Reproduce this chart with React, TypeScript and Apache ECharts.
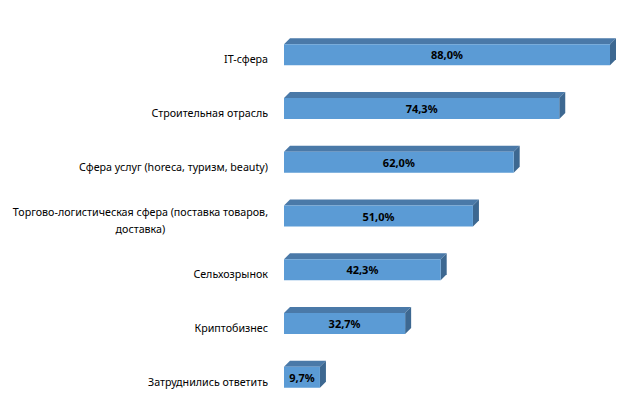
import React, { useEffect, useRef } from "react";
import * as echarts from "echarts";

const categories = [
  "IT-сфера",
  "Строительная отрасль",
  "Сфера услуг (horeca, туризм, beauty)",
  "Торгово-логистическая сфера (поставка товаров,\nдоставка)",
  "Сельхозрынок",
  "Криптобизнес",
  "Затруднились ответить",
];
const values = [88.0, 74.3, 62.0, 51.0, 42.3, 32.7, 9.7];

const FONT = '"Noto Sans", "DejaVu Sans", sans-serif';
const LABEL_SIZE = 10.7;

export default function App() {
  const ref = useRef<HTMLDivElement>(null);
  useEffect(() => {
    if (!ref.current) return;
    const chart = echarts.init(ref.current, undefined, { renderer: "svg" });
    const canvas = document.createElement("canvas");
    const ctx = canvas.getContext("2d")!;
    ctx.font = `${LABEL_SIZE}px ${FONT}`;
    const measure = (s: string) =>
      Math.max(...s.split("\n").map((l) => ctx.measureText(l).width));

    const depth = 6;
    const h = 21;
    const labelRight = 268;

    chart.setOption({
      animation: false,
      backgroundColor: "#ffffff",
      grid: { left: 284, top: 28, width: 326, height: 376 },
      xAxis: { type: "value", min: 0, max: 88, show: false },
      yAxis: {
        type: "category",
        inverse: true,
        data: categories,
        show: false,
      },
      series: [
        {
          type: "custom",
          clip: false,
          encode: { x: 0, y: 1 },
          data: values.map((v, i) => [v, i]),
          renderItem: (params: any, api: any) => {
            const v = api.value(0);
            const idx = api.value(1);
            const end = api.coord([v, idx]);
            const start = api.coord([0, idx]);
            const x0 = start[0];
            const x1 = end[0];
            const yc = end[1];
            const yt = yc - h / 2;
            const yb = yc + h / 2;
            const cat = categories[idx];
            const w = measure(cat);
            return {
              type: "group",
              children: [
                {
                  type: "polygon",
                  shape: {
                    points: [
                      [x0, yt],
                      [x0 + depth, yt - depth],
                      [x1 + depth, yt - depth],
                      [x1, yt],
                    ],
                  },
                  style: { fill: "#4a79a8" },
                },
                {
                  type: "polygon",
                  shape: {
                    points: [
                      [x1, yt],
                      [x1 + depth, yt - depth],
                      [x1 + depth, yb - depth],
                      [x1, yb],
                    ],
                  },
                  style: { fill: "#3d6891" },
                },
                {
                  type: "rect",
                  shape: { x: x0, y: yt, width: x1 - x0, height: h },
                  style: { fill: "#5b9bd5" },
                },
                {
                  type: "text",
                  x: (x0 + x1) / 2,
                  y: yc,
                  style: {
                    text: v.toFixed(1).replace(".", ",") + "%",
                    font: `bold 11px ${FONT}`,
                    fill: "#000000",
                    textAlign: "center",
                    textVerticalAlign: "middle",
                  },
                },
                {
                  type: "text",
                  x: labelRight - w / 2,
                  y: yc + 4.5,
                  style: {
                    text: cat,
                    font: `${LABEL_SIZE}px ${FONT}`,
                    fill: "#000000",
                    textAlign: "center",
                    textVerticalAlign: "middle",
                    lineHeight: 17,
                  },
                },
              ],
            };
          },
        },
      ],
    });
    return () => chart.dispose();
  }, []);
  return (
    <div
      ref={ref}
      style={{ position: "absolute", left: 0, top: 0, width: 640, height: 412 }}
    />
  );
}
